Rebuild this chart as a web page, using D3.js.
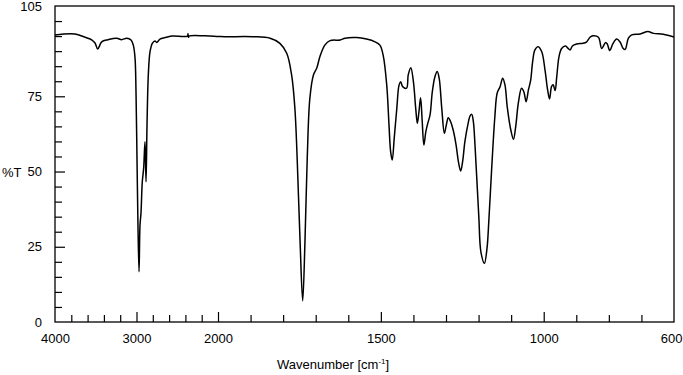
<!DOCTYPE html>
<html>
<head>
<meta charset="utf-8">
<script src="https://cdn.jsdelivr.net/npm/d3@7"></script>
<style>
  body { margin: 0; background: #fff; }
  text { font-family: "Liberation Sans", Arial, sans-serif; }
</style>
</head>
<body>
<div id="chart-container"></div>
<script>
// IR spectrum
const wavenumber = [4000, 3755, 3632, 3546, 3509, 3476, 3427, 3350, 3243, 3182, 3120, 3067, 3039, 3018, 3006, 2994, 2982, 2969, 2957, 2945,
    2929, 2912, 2896, 2883, 2871, 2855, 2834, 2806, 2773, 2752, 2712, 2650, 2568, 2374, 2368, 2362, 2356, 2160, 2000,
    1979, 1893, 1840, 1810, 1789, 1774, 1764, 1757, 1748, 1740, 1733, 1726, 1718, 1707, 1697, 1687, 1672, 1656, 1625, 1610,
    1574, 1544, 1518, 1503, 1493, 1482, 1475, 1470, 1465, 1459, 1451, 1444, 1439, 1433, 1421, 1416, 1408, 1400, 1393, 1388,
    1383, 1378, 1373, 1368, 1362, 1356, 1349, 1342, 1334, 1327, 1321, 1313, 1305, 1299, 1293, 1286, 1278, 1269, 1262, 1255,
    1249, 1242, 1233, 1226, 1221, 1216, 1211, 1206, 1199, 1193, 1182, 1174, 1170, 1160, 1150, 1143, 1134, 1126, 1119, 1112,
    1101, 1093, 1086, 1078, 1068, 1061, 1054, 1047, 1040, 1034, 1027, 1017, 1006, 996, 988, 982, 976, 971, 965, 960,
    953, 945, 933, 925, 919, 912, 899, 879, 868, 858, 849, 832, 822, 810, 805, 797, 788, 776, 766, 756,
    750, 740, 730, 704, 680, 663, 633, 600];
const transmittance = [95.4, 95.7, 94.6, 93.7, 92.7, 90.7, 93.1, 93.8, 94.3, 93.8, 94.3, 93.7, 92.0, 87.7, 76.4, 54.5, 32.2, 16.7, 32.2, 36.2,
    46.6, 51.2, 59.9, 46.6, 65.5, 82.1, 89.8, 92.6, 93.4, 92.9, 94.0, 94.5, 95.0, 95.0, 95.8, 94.6, 95.0, 95.1, 94.9,
    94.8, 94.8, 94.3, 92.6, 89.3, 82.1, 71.1, 54.5, 26.7, 7.0, 26.7, 54.5, 74.3, 82.1, 84.3, 88.2, 92.0, 93.5, 93.7, 94.3,
    94.5, 94.0, 93.1, 92.0, 88.7, 78.8, 65.5, 56.6, 53.8, 61.0, 71.0, 78.8, 79.8, 78.2, 77.7, 82.1, 84.5, 79.8, 71.0, 66.0,
    69.9, 74.5, 66.6, 58.8, 63.2, 66.0, 68.8, 76.5, 81.5, 83.2, 81.0, 71.0, 62.7, 65.5, 67.9, 66.6, 63.8, 58.8, 53.3, 50.2,
    53.3, 59.9, 65.5, 68.5, 69.0, 66.6, 58.8, 48.8, 34.5, 23.4, 19.5, 24.6, 30.6, 50.5, 68.2, 76.0, 78.2, 81.0, 78.8, 71.5,
    63.8, 60.7, 64.9, 72.7, 77.7, 76.5, 73.2, 77.1, 80.4, 86.5, 90.4, 91.5, 89.8, 83.7, 77.1, 74.1, 78.2, 78.8, 76.9, 81.5,
    88.2, 90.9, 91.7, 90.9, 90.4, 91.7, 92.4, 92.6, 93.1, 94.6, 95.1, 94.6, 90.9, 92.9, 92.4, 90.2, 92.4, 94.0, 93.1, 90.9,
    90.6, 94.3, 95.4, 95.7, 96.5, 95.9, 95.6, 94.7];

const xLabelTicks = [4000, 3000, 2000, 1500, 1000, 600];
const xMajorTicks = [3000, 2000, 1500, 1000];
const xMinorTicks = [3800, 3600, 3400, 3200, 2800, 2600, 2400, 2200,
    1900, 1800, 1700, 1600, 1400, 1300, 1200, 1100, 900, 800, 700];
const yLabelTicks = [0, 25, 50, 75, 105];
const yMajorTicks = [25, 50, 75];
const yMinorTicks = [5, 10, 15, 20, 30, 35, 40, 45, 55, 60, 65, 70, 80, 85, 90, 95, 100];

const svgWidth = 683;
const svgHeight = 375;
const margin = { top: 6, right: 9, bottom: 53, left: 55 };
const width = svgWidth - margin.left - margin.right;
const height = svgHeight - margin.top - margin.bottom;

const svg = d3.select("#chart-container")
    .append("svg")
    .attr("width", svgWidth)
    .attr("height", svgHeight)
    .append("g")
    .attr("transform", `translate(${margin.left},${margin.top})`);

// the axis is compressed above 2000 cm-1 (4x), so use a piecewise linear scale
const x = d3.scaleLinear()
    .domain([4000, 2000, 600])
    .range([0, 163, width]);

const y = d3.scaleLinear()
    .domain([0, 105])
    .range([height, 0]);

const points = wavenumber.map((w, i) => [w, transmittance[i]]);

// ticks point inward
svg.append("g")
    .attr("transform", `translate(0, ${height})`)
    .call(d3.axisBottom(x).tickValues(xMinorTicks).tickSize(-7).tickFormat("").tickSizeOuter(0));
svg.append("g")
    .attr("transform", `translate(0, ${height})`)
    .call(d3.axisBottom(x).tickValues(xMajorTicks).tickSize(-10).tickFormat("").tickSizeOuter(0));
svg.append("g")
    .attr("class", "xlabels")
    .attr("transform", `translate(0, ${height})`)
    .call(d3.axisBottom(x).tickValues(xLabelTicks).tickSize(0).tickPadding(12).tickFormat(d3.format("d")));

svg.append("g")
    .call(d3.axisLeft(y).tickValues(yMinorTicks).tickSize(-7).tickFormat("").tickSizeOuter(0));
svg.append("g")
    .call(d3.axisLeft(y).tickValues(yMajorTicks).tickSize(-10).tickFormat("").tickSizeOuter(0));
svg.append("g")
    .attr("class", "ylabels")
    .call(d3.axisLeft(y).tickValues(yLabelTicks).tickSize(0).tickPadding(13));

svg.selectAll(".domain").remove();
svg.selectAll(".tick line").attr("stroke", "#000").attr("stroke-width", 1.2);
svg.selectAll(".xlabels text, .ylabels text")
    .attr("font-size", 13)
    .attr("font-family", "Liberation Sans, Arial, sans-serif")
    .attr("fill", "#000");

// last label sits at the right edge, keep it inside the page
svg.selectAll(".xlabels .tick")
    .filter(d => d === 600)
    .select("text")
    .attr("text-anchor", "end")
    .attr("x", 8);

// frame
svg.append("rect")
    .attr("x", 0)
    .attr("y", 0)
    .attr("width", width)
    .attr("height", height)
    .attr("fill", "none")
    .attr("stroke", "#000")
    .attr("stroke-width", 1.3);

const line = d3.line()
    .x(d => x(d[0]))
    .y(d => y(d[1]))
    .curve(d3.curveCatmullRom.alpha(0.5));

svg.append("path")
    .datum(points)
    .attr("fill", "none")
    .attr("stroke", "#000")
    .attr("stroke-width", 1.5)
    .attr("stroke-linejoin", "round")
    .attr("d", line);

svg.append("text")
    .text("%T")
    .attr("x", 2 - margin.left)
    .attr("y", y(50) + 5)
    .attr("font-size", 13);

const xt = svg.append("text")
    .attr("x", 277 - margin.left)
    .attr("y", 369 - margin.top)
    .attr("font-size", 13);
xt.append("tspan").text("Wavenumber [cm");
xt.append("tspan").text("-1").attr("font-size", 8).attr("dy", -5);
xt.append("tspan").text("]").attr("dy", 5);
</script>
</body>
</html>
